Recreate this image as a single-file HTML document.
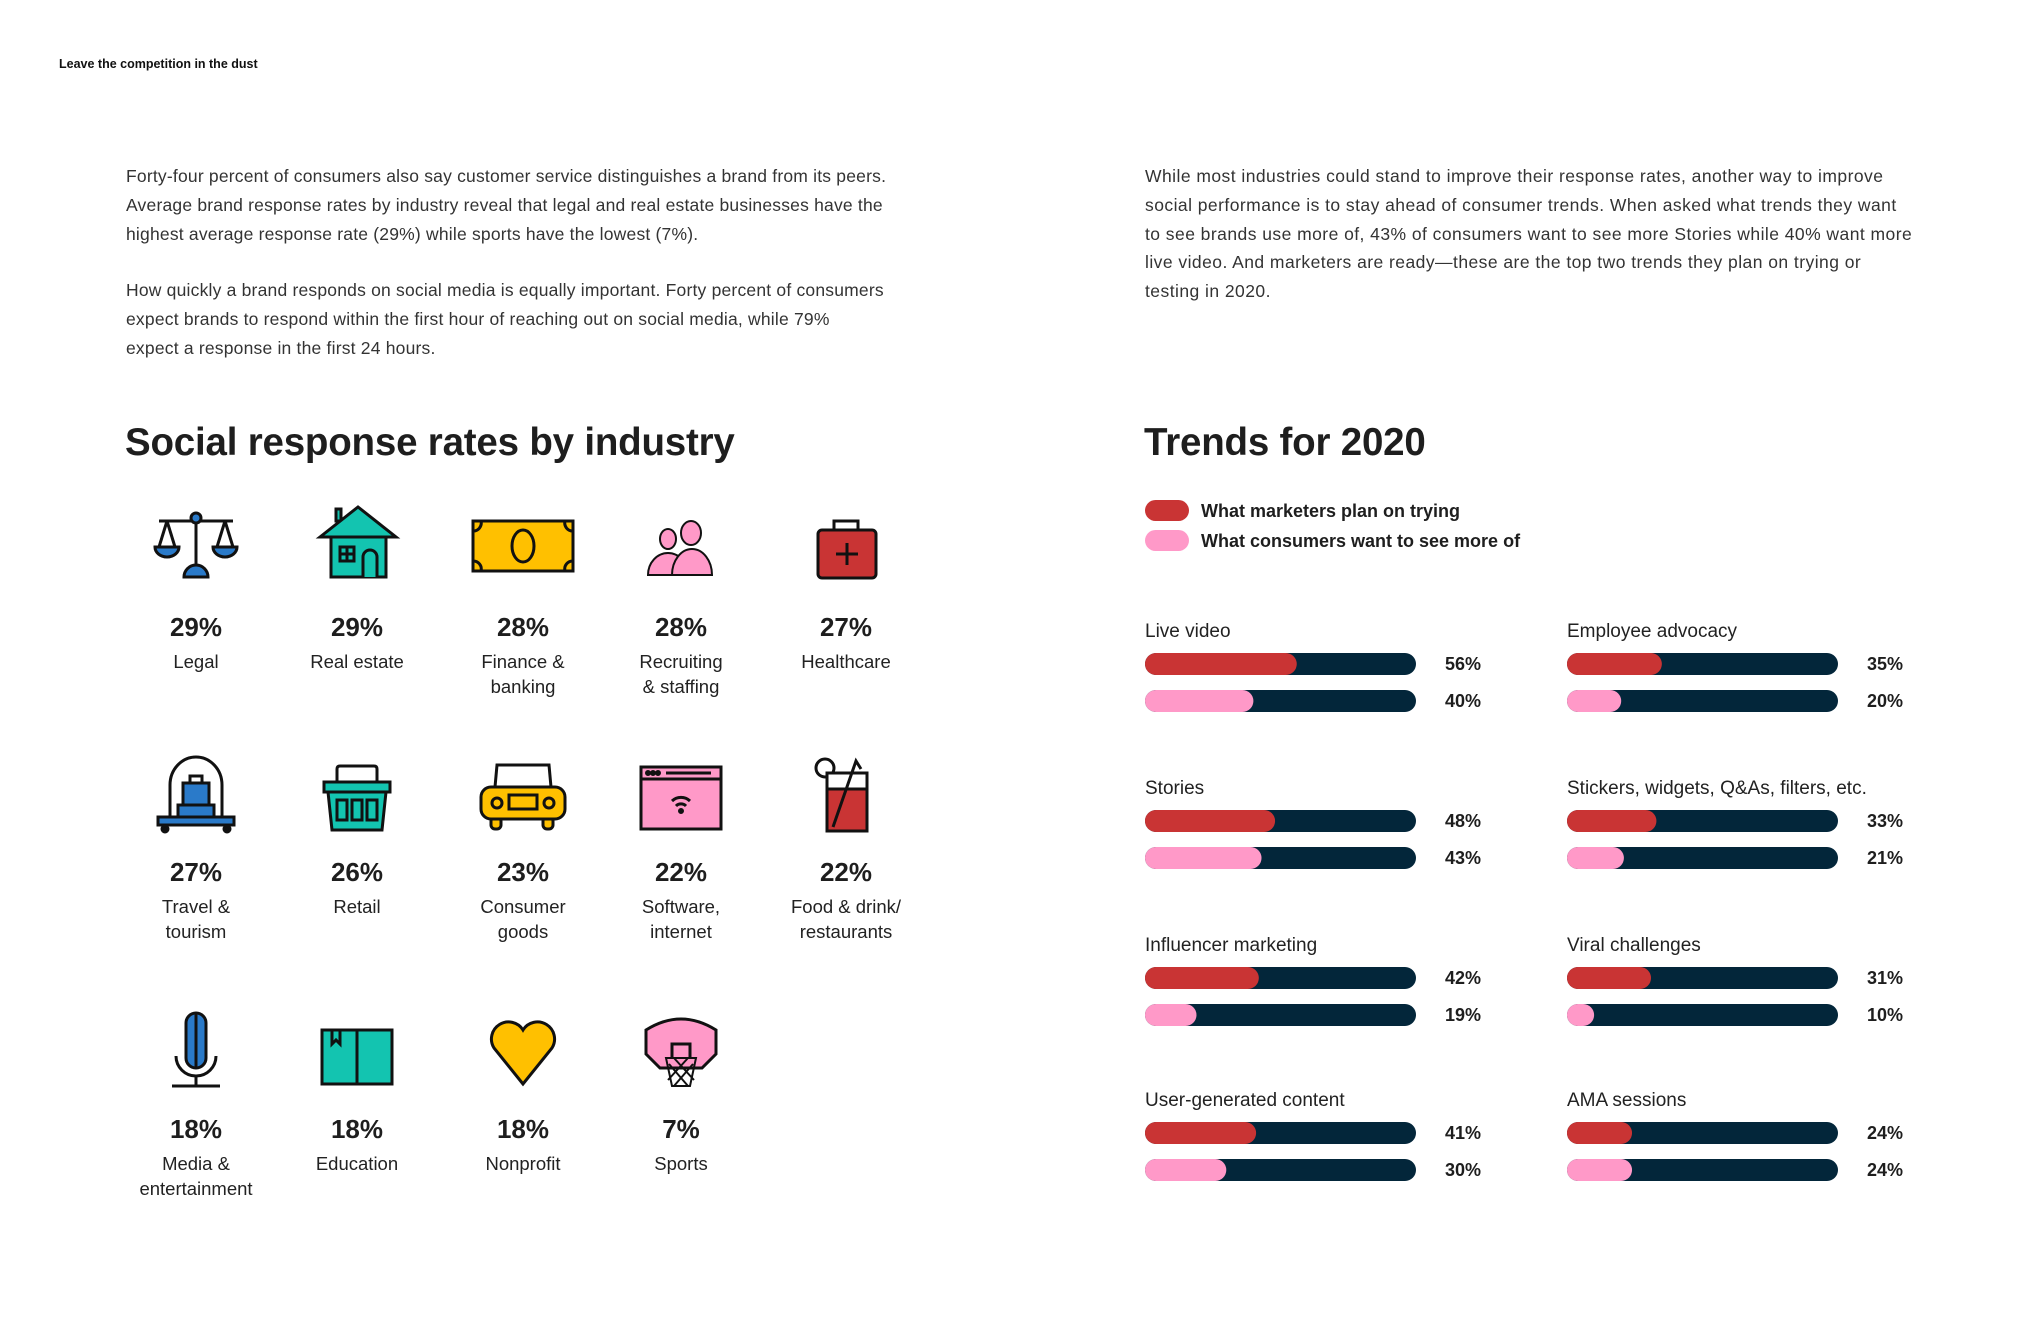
<!DOCTYPE html>
<html><head><meta charset="utf-8">
<style>
body{margin:0;width:2040px;height:1320px;background:#fff;font-family:"Liberation Sans",sans-serif;color:#222;position:relative;overflow:hidden}
.abs{position:absolute}
.p{font-size:17.5px;line-height:28.8px;color:#333;letter-spacing:0.45px;white-space:nowrap}
.pl{letter-spacing:0.2px}
h1,h2{margin:0;font-weight:bold;color:#1e1e1e;font-size:38.5px;position:absolute;letter-spacing:-0.2px}
.cell{position:absolute;width:170px;text-align:center}
.cell svg{display:block;margin:0 auto}
.pct{font-weight:bold;font-size:26px;color:#1e1e1e}
.lab{font-size:18.5px;line-height:25px;color:#222}
</style></head><body>
<div class="abs" style="left:59px;top:57px;font-size:12.5px;font-weight:bold;color:#111">Leave the competition in the dust</div>
<div class="abs p pl" style="left:126px;top:162px">Forty-four percent of consumers also say customer service distinguishes a brand from its peers.<br>Average brand response rates by industry reveal that legal and real estate businesses have the<br>highest average response rate (29%) while sports have the lowest (7%).</div>
<div class="abs p pl" style="left:126px;top:276px">How quickly a brand responds on social media is equally important. Forty percent of consumers<br>expect brands to respond within the first hour of reaching out on social media, while 79%<br>expect a response in the first 24 hours.</div>
<div class="abs p" style="left:1145px;top:162px">While most industries could stand to improve their response rates, another way to improve<br>social performance is to stay ahead of consumer trends. When asked what trends they want<br>to see brands use more of, 43% of consumers want to see more Stories while 40% want more<br>live video. And marketers are ready—these are the top two trends they plan on trying or<br>testing in 2020.</div>
<h1 style="left:125px;top:421px">Social response rates by industry</h1>
<h2 style="left:1144px;top:421px">Trends for 2020</h2>

<div class="cell" style="left:111px;top:505px">
<svg width="90" height="75" viewBox="0 0 90 75"><g stroke="#111" stroke-width="3" fill="#2a7ac9"><line x1="8" y1="16" x2="82" y2="16"/><line x1="45" y1="16" x2="45" y2="62"/><circle cx="45" cy="13" r="5"/><line x1="16" y1="16" x2="8" y2="42"/><line x1="16" y1="16" x2="24" y2="42"/><line x1="74" y1="16" x2="66" y2="42"/><line x1="74" y1="16" x2="82" y2="42"/><path d="M4 42 H28 A12 10 0 0 1 4 42Z"/><path d="M62 42 H86 A12 10 0 0 1 62 42Z"/><path d="M33 72 A12 12 0 0 1 57 72Z"/></g></svg></div>
<div class="cell" style="left:272px;top:505px">
<svg width="90" height="75" viewBox="0 0 90 75"><g stroke="#111" stroke-width="3" fill="#13c4b0"><rect x="24" y="4" width="5" height="12"/><rect x="19" y="30" width="55" height="42"/><path d="M8 32 L46 2 L84 32Z"/><rect x="28" y="42" width="14" height="14" fill="none"/><line x1="35" y1="42" x2="35" y2="56"/><line x1="28" y1="49" x2="42" y2="49"/><path d="M51 72 V52 A7 7 0 0 1 65 52 V72"/></g></svg></div>
<div class="cell" style="left:438px;top:505px">
<svg width="110" height="75" viewBox="0 0 110 75"><g stroke="#111" stroke-width="3" fill="#ffc000"><rect x="5" y="16" width="100" height="50"/><ellipse cx="55" cy="41" rx="11" ry="16"/><path d="M5 26 A8 8 0 0 0 13 16 M97 16 A8 8 0 0 0 105 26 M5 56 A8 8 0 0 1 13 66 M97 66 A8 8 0 0 1 105 56" fill="none"/></g></svg></div>
<div class="cell" style="left:596px;top:505px">
<svg width="90" height="75" viewBox="0 0 90 75"><g stroke="#111" stroke-width="2" fill="#ff99c8"><ellipse cx="32" cy="34" rx="8" ry="10"/><ellipse cx="55" cy="28" rx="10" ry="12"/><path d="M12 70 A20 22 0 0 1 52 70Z"/><path d="M36 70 A20 26 0 0 1 76 70Z"/></g></svg></div>
<div class="cell" style="left:761px;top:505px">
<svg width="90" height="75" viewBox="0 0 90 75"><g stroke="#111" stroke-width="3"><path d="M33 25 V16 H57 V25" fill="none"/><rect x="17" y="25" width="58" height="48" rx="4" fill="#c93434"/><line x1="46" y1="38" x2="46" y2="60"/><line x1="35" y1="49" x2="57" y2="49"/></g></svg></div>

<div class="cell" style="left:111px;top:755px">
<svg width="90" height="80" viewBox="0 0 90 80"><g stroke="#111" stroke-width="3"><path d="M19 62 V30 A26 28 0 0 1 71 30 V62" fill="none"/><rect x="32" y="28" width="26" height="22" fill="#2a7ac9"/><rect x="39" y="21" width="12" height="7" fill="none"/><rect x="27" y="50" width="36" height="12" fill="#2a7ac9"/><rect x="7" y="62" width="76" height="8" fill="#2a7ac9"/><circle cx="14" cy="74" r="3" fill="#111"/><circle cx="76" cy="74" r="3" fill="#111"/></g></svg></div>
<div class="cell" style="left:272px;top:755px">
<svg width="90" height="80" viewBox="0 0 90 80"><g stroke="#111" stroke-width="3" fill="#13c4b0"><path d="M25 30 V14 Q25 11 28 11 H62 Q65 11 65 14 V30" fill="none"/><rect x="12" y="27" width="66" height="10"/><path d="M16 37 H74 L70 75 H20Z"/><rect x="25" y="45" width="10" height="20" fill="none"/><rect x="40" y="45" width="10" height="20" fill="none"/><rect x="55" y="45" width="10" height="20" fill="none"/></g></svg></div>
<div class="cell" style="left:438px;top:755px">
<svg width="100" height="80" viewBox="0 0 100 80"><g stroke="#111" stroke-width="3" fill="#ffc000"><path d="M22 32 L24 10 H76 L78 32" fill="none"/><rect x="18" y="62" width="10" height="12" rx="4"/><rect x="70" y="62" width="10" height="12" rx="4"/><rect x="8" y="32" width="84" height="32" rx="10"/><circle cx="24" cy="48" r="5" fill="none"/><circle cx="76" cy="48" r="5" fill="none"/><rect x="36" y="40" width="28" height="14" fill="none"/></g></svg></div>
<div class="cell" style="left:596px;top:755px">
<svg width="90" height="80" viewBox="0 0 90 80"><g stroke="#111" stroke-width="3" fill="#ff99c8"><rect x="5" y="12" width="80" height="62"/><line x1="5" y1="24" x2="85" y2="24"/><line x1="30" y1="18" x2="75" y2="18"/><circle cx="12" cy="18" r="1.5" fill="#111"/><circle cx="17" cy="18" r="1.5" fill="#111"/><circle cx="22" cy="18" r="1.5" fill="#111"/><path d="M36 46 A13 13 0 0 1 54 46 M40 51 A7 7 0 0 1 50 51" fill="none"/><circle cx="45" cy="56" r="1.5" fill="#111"/></g></svg></div>
<div class="cell" style="left:761px;top:755px">
<svg width="90" height="80" viewBox="0 0 90 80"><g stroke="#111" stroke-width="3"><circle cx="24" cy="13" r="9" fill="none"/><rect x="26" y="18" width="40" height="58" fill="#fff"/><rect x="26" y="34" width="40" height="42" fill="#c93434"/><path d="M32 72 L55 6 L60 14" fill="none"/></g></svg></div>

<div class="cell" style="left:111px;top:1008px">
<svg width="90" height="80" viewBox="0 0 90 80"><g stroke="#111" stroke-width="3"><rect x="35" y="5" width="20" height="55" rx="10" fill="#2a7ac9"/><line x1="45" y1="5" x2="45" y2="60"/><path d="M25 48 A20 20 0 0 0 65 48" fill="none"/><line x1="45" y1="68" x2="45" y2="78"/><line x1="21" y1="78" x2="69" y2="78"/></g></svg></div>
<div class="cell" style="left:272px;top:1008px">
<svg width="90" height="80" viewBox="0 0 90 80"><g stroke="#111" stroke-width="3" fill="#13c4b0"><rect x="10" y="22" width="70" height="54"/><line x1="45" y1="22" x2="45" y2="76"/><path d="M20 22 V36 L24 32 L28 36 V22" fill="none"/></g></svg></div>
<div class="cell" style="left:438px;top:1008px">
<svg width="90" height="80" viewBox="0 0 90 80"><path d="M45 76 L16 40 A14 14 0 0 1 45 22 A14 14 0 0 1 74 40Z" fill="#ffc000" stroke="#111" stroke-width="3"/></svg></div>
<div class="cell" style="left:596px;top:1008px">
<svg width="90" height="80" viewBox="0 0 90 80"><g stroke="#111" stroke-width="3"><path d="M10 46 V22 Q45 0 80 22 V46 L66 60 H24Z" fill="#ff99c8"/><path d="M36 50 V36 H54 V50" fill="none"/><path d="M30 50 H60 L54 78 H36Z M33 56 L52 78 M57 56 L38 78 M38 50 L58 72 M52 50 L32 72" fill="none" stroke-width="2"/></g></svg></div>

<div id="grid-labels"></div>

<svg id="trends" width="2040" height="1320" style="position:absolute;left:0;top:0" font-family="Liberation Sans, sans-serif"></svg>

<script>
const industries=["Legal","Real estate","Finance &\nbanking","Recruiting\n& staffing","Healthcare","Travel &\ntourism","Retail","Consumer\ngoods","Software,\ninternet","Food & drink/\nrestaurants","Media &\nentertainment","Education","Nonprofit","Sports"];
const rates=[29,29,28,28,27,27,26,23,22,22,18,18,18,7];
const colX=[196,357,523,681,846];
const rowTop=[612,857,1114];
const gl=document.getElementById('grid-labels');
industries.forEach((name,i)=>{
  const c=i%5,r=Math.floor(i/5);
  const d=document.createElement('div');
  d.className='cell';
  
  
  d.style.left=(colX[c]-85)+'px';d.style.top=rowTop[r]+'px';
  d.innerHTML='<div class="pct">'+rates[i]+'%</div><div class="lab" style="margin-top:6px">'+name.replace('\n','<br>')+'</div>';
  gl.appendChild(d);
});

const categories=["Live video","Stories","Influencer marketing","User-generated content","Employee advocacy","Stickers, widgets, Q&As, filters, etc.","Viral challenges","AMA sessions"];
const marketers=[56,48,42,41,35,33,31,24];
const consumers=[40,43,19,30,20,21,10,24];
const NS='http://www.w3.org/2000/svg';
const svg=document.getElementById('trends');
function mk(t,a){const e=document.createElementNS(NS,t);for(const k in a)e.setAttribute(k,a[k]);svg.appendChild(e);return e;}
let e;
e=mk('rect',{x:1145,y:500,width:44,height:21,rx:10.5,fill:'#c93434'});


e=mk('text',{x:1201,y:517,'font-size':18,'font-weight':'bold',fill:'#1e1e1e'});e.textContent='What marketers plan on trying';


e=mk('rect',{x:1145,y:530,width:44,height:21,rx:10.5,fill:'#ff99c8'});


e=mk('text',{x:1201,y:547,'font-size':18,'font-weight':'bold',fill:'#1e1e1e'});e.textContent='What consumers want to see more of';



const trackW=271,barH=22;
function xScale(v){return v/100*trackW;}
categories.forEach((cat,i)=>{
  const col=i<4?0:1,row=i%4;
  const x0=col?1567:1145, y0=[637,794,951,1106][row], valX=col?1903:1481;
  const t=mk('text',{x:x0,y:y0,'font-size':19,fill:'#222'});t.textContent=cat;
  
  
  [[marketers,'#c93434',16],[consumers,'#ff99c8',53]].forEach(([arr,color,dy])=>{
    const y=y0+dy;
    const tr=mk('rect',{x:x0,y:y,width:trackW,height:barH,rx:11,fill:'#03263a'});
    
    
    const w=Math.max(xScale(arr[i]),barH);
    const b=mk('rect',{x:x0,y:y,width:w,height:barH,rx:11,fill:color});
    
    
    const v=mk('text',{x:valX,y:y+17,'font-size':18,'font-weight':'bold','text-anchor':'end',fill:'#1e1e1e'});v.textContent=arr[i]+'%';
    
    
  });
});
</script>
</body></html>
